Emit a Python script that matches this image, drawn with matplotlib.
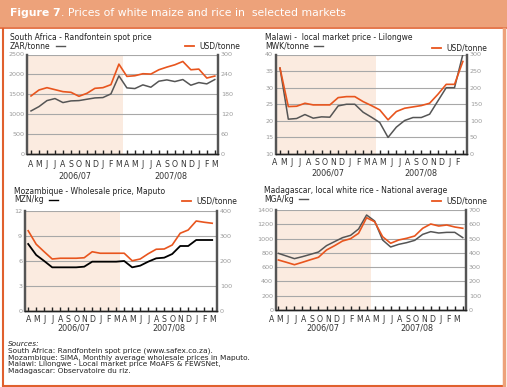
import numpy as np
import matplotlib.pyplot as plt
from matplotlib.lines import Line2D
from matplotlib.patches import Rectangle

## Data
months_24 = ['A', 'M', 'J', 'J', 'A', 'S', 'O', 'N', 'D', 'J', 'F', 'M',
             'A', 'M', 'J', 'J', 'A', 'S', 'O', 'N', 'D', 'J', 'F', 'M']
months_23 = months_24[:23]
years = ['2006/07', '2007/08']

# South Africa - Randfontein spot price
sa_zar = [1082, 1191, 1342, 1393, 1292, 1334, 1342, 1376, 1409, 1418, 1510, 1963,
          1661, 1644, 1737, 1678, 1829, 1862, 1820, 1871, 1728, 1795, 1762, 1871]
sa_usd = [175, 193, 200, 194, 188, 186, 174, 183, 198, 200, 209, 271,
          234, 236, 242, 241, 254, 262, 269, 279, 254, 256, 229, 235]

# Malawi - local market price - Lilongwe
mw_mwk = [35.9, 20.5, 20.7, 21.9, 20.8, 21.2, 21.1, 24.5, 25.0, 25.0, 22.6, 21.1,
          19.5, 15.0, 18.1, 20.1, 21.0, 21.0, 22.0, 26.0, 30.0, 30.0, 40.0]
mw_usd = [259, 143, 144, 153, 148, 148, 148, 170, 173, 173, 158, 146,
          133, 103, 128, 138, 142, 146, 153, 180, 210, 210, 279]

# Mozambique - Wholesale price, Maputo
mz_mzn = [8.04, 6.72, 6.0, 5.24, 5.24, 5.24, 5.24, 5.32, 5.92, 5.92, 5.92, 5.92,
          6.0, 5.24, 5.44, 5.92, 6.32, 6.4, 6.84, 7.8, 7.8, 8.52, 8.52, 8.52]
mz_usd = [321, 267, 237, 208, 211, 211, 211, 213, 237, 231, 231, 231,
          231, 201, 208, 229, 247, 248, 264, 311, 324, 360, 355, 351]

# Madagascar - local white rice - National average
mg_mga = [793, 756, 719, 747, 779, 812, 901, 957, 1013, 1045, 1134, 1330,
          1246, 980, 882, 919, 943, 975, 1059, 1097, 1078, 1087, 1087, 1013]
mg_usd = [350, 334, 317, 334, 352, 369, 420, 450, 483, 499, 537, 646,
          618, 513, 467, 490, 502, 518, 572, 602, 588, 595, 581, 572]

sources = ['South Africa: Randfontein spot price (www.safex.co.za).',
           'Mozambique: SIMA, Monthly average wholesale prices in Maputo.',
           'Malawi: Lilongwe - Local market price MoAFS & FEWSNet,',
           'Madagascar: Observatoire du riz.']

## Style
ORANGE = '#E8551E'
GRAY = '#555555'
SHADE = '#FBEBE0'
W, H = 507, 387

fig = plt.figure(figsize=(W / 100, H / 100), dpi=100)
plt.rcParams['font.family'] = 'DejaVu Sans'
renderer = fig.canvas.get_renderer()


def fx(px):
    return px / W


def fy(py):
    return 1 - py / H


def text_right(t):
    # right edge of a figure text, in pixels
    return t.get_window_extent(renderer=renderer).x1


# title bar and frame
fig.add_artist(Rectangle((0, fy(27)), 1, 27 / H, transform=fig.transFigure,
                         color='#EDA27A', lw=0))
fig.add_artist(Line2D([0, 1], [fy(28), fy(28)], color='#E0602E', lw=1.2))
fig.add_artist(Line2D([fx(2.5), fx(2.5)], [fy(29), fy(385)], color='#E0602E', lw=1.5))
fig.add_artist(Line2D([fx(2.5), fx(504)], [fy(385.5), fy(385.5)], color='#E0602E', lw=1.5))
fig.add_artist(Line2D([fx(504), fx(504)], [fy(29), fy(385.5)], color='#EDA27A', lw=2.5))
t0 = fig.text(fx(10), fy(13.5), 'Figure 7', color='white', fontsize=7.8,
              fontweight='bold', va='center')
fig.text(fx(text_right(t0)), fy(13.5), '. Prices of white maize and rice in  selected markets',
         color='white', fontsize=7.8, va='center')


def panel(box, xlim, left, right, lticks, rticks, months, off, main_color,
          main_lw, title, unit, tpos, lpos, mlab_y, ylab_y, year_x):
    x0, x1, y0, y1 = box
    ax = fig.add_axes([fx(x0), fy(y1), fx(x1 - x0), (y1 - y0) / H])
    ax2 = ax.twinx()
    n = len(left)
    idx = np.arange(n)
    ax.set_xlim(*xlim)
    ax.set_ylim(lticks[0], lticks[-1])
    ax2.set_ylim(rticks[0], rticks[-1])
    ax.axvspan(xlim[0], 11.5, color=SHADE, lw=0, zorder=0)
    ax.set_yticks(lticks)
    ax2.set_yticks(rticks)
    ax.grid(axis='y', color='#A8A8A8', lw=0.8)
    ax.set_axisbelow(True)
    ax.plot(idx, left, color=main_color, lw=main_lw, zorder=3)
    ax2.plot(idx, right, color=ORANGE, lw=1.2, zorder=3)

    ax.set_xticks(idx)
    ax.set_xticklabels([])
    ax.tick_params(axis='x', direction='in', length=3, width=1, color='#222222')
    for i, m in enumerate(months):
        ax.text(i + off, -mlab_y, m, transform=ax.get_xaxis_transform(),
                ha='center', va='center', fontsize=5.6, color='#333333')
    for xx, yl in zip(year_x, years):
        ax.text(xx, -ylab_y, yl, transform=ax.get_xaxis_transform(),
                ha='center', va='center', fontsize=5.8, color='#333333')
    for a in (ax, ax2):
        a.tick_params(axis='y', length=0, labelsize=4.6, labelcolor='#9A9A9A', pad=2)
        a.spines['top'].set_visible(False)
        a.spines['left'].set_color('#555555')
        a.spines['left'].set_linewidth(1.6)
        a.spines['right'].set_color('#555555')
        a.spines['right'].set_linewidth(1.6)
        a.spines['bottom'].set_color('#222222')
        a.spines['bottom'].set_linewidth(1.0)

    fig.text(fx(tpos[0]), fy(tpos[1]), title, fontsize=5.5, color='#222222', va='center')
    tu = fig.text(fx(tpos[0]), fy(tpos[1] + 9), unit, fontsize=5.5, color='#222222',
                  va='center')
    ux = text_right(tu) + 5
    fig.add_artist(Line2D([fx(ux), fx(ux + 9)], [fy(tpos[1] + 9)] * 2,
                          color=main_color, lw=1.0))
    fig.add_artist(Line2D([fx(lpos[0]), fx(lpos[0] + 9)], [fy(lpos[1])] * 2,
                          color=ORANGE, lw=1.3))
    fig.text(fx(lpos[0] + 14), fy(lpos[1]), 'USD/tonne', fontsize=5.5,
             color='#222222', va='center')
    return ax


panel((27, 218, 54.5, 154), (-0.5, 23.4), sa_zar, sa_usd,
      [0, 500, 1000, 1500, 2000, 2500], [0, 60, 120, 180, 240, 300],
      months_24, 0, GRAY, 1.1, 'South Africa - Randfontein spot price', 'ZAR/tonne',
      (10, 37), (185, 46), 0.11, 0.22, [5.5, 17.5])

panel((276, 467, 54.5, 154), (-0.48, 22.5), mw_mwk, mw_usd,
      [10, 15, 20, 25, 30, 35, 40], [0, 50, 100, 150, 200, 250, 300],
      months_23, -0.6, GRAY, 1.1, 'Malawi -  local market price - Lilongwe', 'MWK/tonne',
      (265, 37), (432, 48), 0.09, 0.19, [5.8, 16.9])

panel((25, 217, 211, 311), (-0.4, 23.6), mz_mzn, mz_usd,
      [0, 3, 6, 9, 12], [0, 100, 200, 300, 400],
      months_24, 0, '#000000', 1.3, 'Mozambique - Wholesale price, Maputo', 'MZN/kg',
      (14, 191), (182, 201), 0.08, 0.17, [5.7, 17.6])

panel((276, 466, 210, 310), (-0.3, 23.4), mg_mga, mg_usd,
      [0, 200, 400, 600, 800, 1000, 1200, 1400], [0, 100, 200, 300, 400, 500, 600, 700],
      months_24, -0.83, GRAY, 1.1, 'Madagascar, local white rice - National average', 'MGA/kg',
      (264, 190), (432, 201), 0.10, 0.18, [5.5, 17.3])

## Sources
fig.text(fx(8), fy(344), 'Sources:', fontsize=5.3, style='italic', color='#222222', va='center')
for k, s in enumerate(sources):
    fig.text(fx(8), fy(351 + 6.6 * k), s, fontsize=5.3, color='#222222', va='center')

plt.savefig('out.png', dpi=100)
